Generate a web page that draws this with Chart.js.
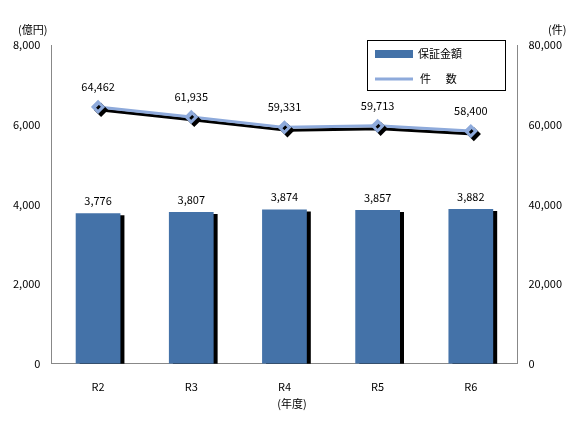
<!DOCTYPE html>
<html><head><meta charset="utf-8">
<script src="https://cdn.jsdelivr.net/npm/chart.js@4"></script>
<style>body{margin:0;background:#fff}</style>
</head><body><canvas id="c" width="579" height="431"></canvas>
<script>
var categories = ["R2", "R3", "R4", "R5", "R6"];
var amounts = [3776, 3807, 3874, 3857, 3882];
var counts = [64462, 61935, 59331, 59713, 58400];
var leftTicks = [0, 2000, 4000, 6000, 8000];
var rightTicks = [0, 20000, 40000, 60000, 80000];
var F = "'Noto Sans CJK JP', sans-serif";
function fmt(v) { return Number(v).toLocaleString('en-US'); }
function setL(s) { s.ticks = leftTicks.map(function (v) { return { value: v }; }); }
function setR(s) { s.ticks = rightTicks.map(function (v) { return { value: v }; }); }
var deco = {
  id: 'deco',
  beforeDatasetDraw: function (ch, a) {
    var c = ch.ctx; c.save();
    c.shadowColor = '#000'; c.shadowBlur = 0;
    c.shadowOffsetX = (a.index === 0) ? 4 : 3;
    c.shadowOffsetY = (a.index === 0) ? 2 : 3;
  },
  afterDatasetDraw: function (ch) { ch.ctx.restore(); },
  afterDraw: function (ch) {
    var c = ch.ctx; c.save();
    c.font = "11px " + F; c.fillStyle = '#000'; c.textAlign = 'center';
    ch.getDatasetMeta(0).data.forEach(function (b, i) { c.fillText(fmt(amounts[i]), b.x, b.y - 8); });
    ch.getDatasetMeta(1).data.forEach(function (p, i) { c.fillText(fmt(counts[i]), p.x, p.y - 16); });
    c.textAlign = 'left'; c.fillText('(億円)', 18, 34); c.fillText('(件)', 548, 34);
    c.textAlign = 'center'; c.fillText('(年度)', 292, 408);
    c.strokeStyle = '#000'; c.lineWidth = 1; c.strokeRect(367.5, 40.5, 138, 50);
    c.fillStyle = '#4472a8'; c.fillRect(375, 50, 38, 8);
    c.strokeStyle = '#8eaadb'; c.lineWidth = 3; c.beginPath(); c.moveTo(375, 79); c.lineTo(413, 79); c.stroke();
    c.fillStyle = '#000'; c.textAlign = 'left';
    c.fillText('保証金額', 418, 58); c.fillText('件      数', 420, 83);
    c.restore();
  }
};
var tickFont = { family: F, size: 11 };
new Chart(document.getElementById('c'), {
  data: {
    labels: categories,
    datasets: [
      { type: 'bar', data: amounts, yAxisID: 'y', backgroundColor: '#4472a8', barPercentage: 0.48, categoryPercentage: 1, order: 2 },
      { type: 'line', data: counts, yAxisID: 'y1', borderColor: '#8eaadb', borderWidth: 3, pointStyle: 'rectRot', pointRadius: 5, pointBackgroundColor: '#8eaadb', pointBorderColor: '#8eaadb', order: 1 }
    ]
  },
  options: {
    responsive: false, animation: false,
    layout: { padding: { left: 10, right: 14, top: 45, bottom: 30 } },
    plugins: { legend: { display: false }, tooltip: { enabled: false } },
    scales: {
      x: { grid: { display: false }, border: { color: '#888' }, ticks: { color: '#000', font: tickFont, padding: 8 } },
      y: { min: 0, max: 8000, afterBuildTicks: setL, grid: { display: false }, border: { color: '#888' }, ticks: { color: '#000', font: tickFont, callback: fmt } },
      y1: { position: 'right', min: 0, max: 80000, afterBuildTicks: setR, grid: { display: false }, border: { color: '#888' }, ticks: { color: '#000', font: tickFont, callback: fmt } }
    }
  },
  plugins: [deco]
});
</script></body></html>
